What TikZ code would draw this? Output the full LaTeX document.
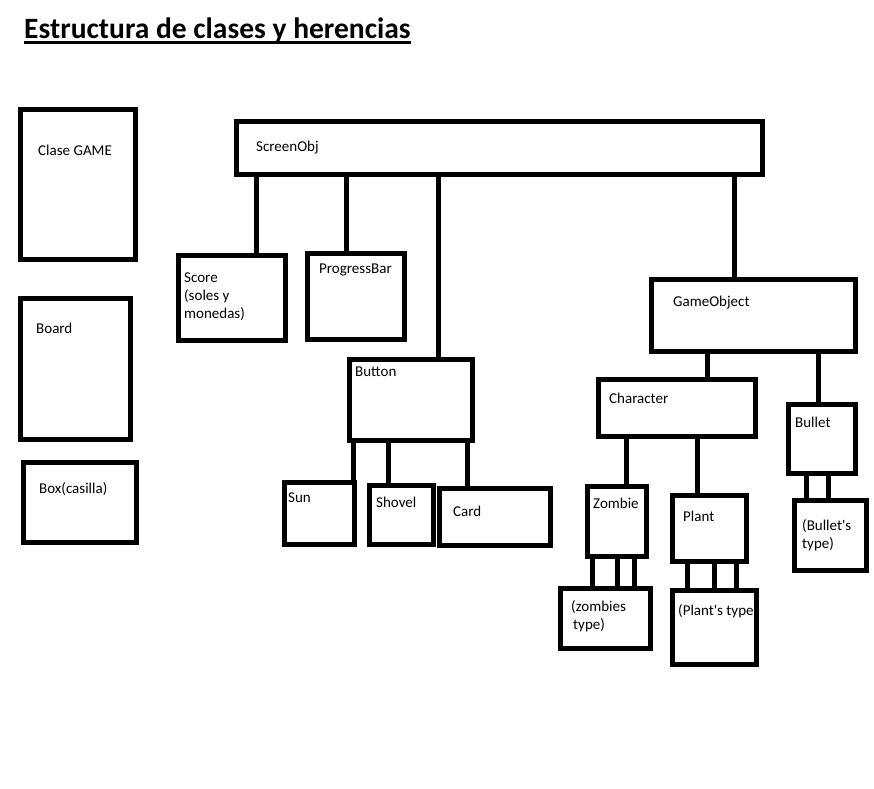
\documentclass[tikz,border=0pt]{standalone}
\usepackage{fontspec}
\setmainfont{Carlito}
\begin{document}
\begin{tikzpicture}[x=1pt,y=-1pt,
  cls/.style={draw=black, line width=5pt, inner sep=0pt, fill=white},
  conn/.style={draw=black, line width=5pt},
  lbl/.style={anchor=base west, inner sep=0pt, font=\fontsize{15}{18}\selectfont, align=left},
  ttl/.style={anchor=base west, inner sep=0pt, font=\fontsize{29.5}{34}\selectfont\bfseries}]
\useasboundingbox[fill=white] (0,0) rectangle (874,788);

% title
\node[ttl] (title) at (24,38) {Estructura de clases y herencias};
\draw[line width=3pt] ([yshift=-4.5pt]title.base west) -- ([yshift=-4.5pt]title.base east);

% left standalone boxes
\node[cls, minimum width=115, minimum height=150] (game) at (78,184.5) {};
\node[cls, minimum width=110, minimum height=141] (board) at (75.5,369) {};
\node[cls, minimum width=113, minimum height=80] (boxc) at (80,502.5) {};

% hierarchy boxes
\node[cls, minimum width=526, minimum height=53] (screen) at (499.5,148) {};
\node[cls, minimum width=107, minimum height=85] (score) at (232,298) {};
\node[cls, minimum width=97, minimum height=86] (progress) at (356,296.5) {};
\node[cls, minimum width=123, minimum height=81] (button) at (411,400) {};
\node[cls, minimum width=70, minimum height=62] (sun) at (319.5,513.5) {};
\node[cls, minimum width=64, minimum height=59] (shovel) at (401.5,515) {};
\node[cls, minimum width=111, minimum height=57] (card) at (495,517) {};
\node[cls, minimum width=204, minimum height=72] (gameobj) at (753.5,315.5) {};
\node[cls, minimum width=157, minimum height=57] (character) at (677,408) {};
\node[cls, minimum width=67, minimum height=69] (bullet) at (822,439) {};
\node[cls, minimum width=59, minimum height=70] (zombie) at (617,521.5) {};
\node[cls, minimum width=74, minimum height=66] (plant) at (709.5,528.5) {};
\node[cls, minimum width=90, minimum height=60] (ztype) at (605.5,618.5) {};
\node[cls, minimum width=84, minimum height=74] (ptype) at (714.5,627.5) {};
\node[cls, minimum width=72, minimum height=70] (btype) at (830.5,535.5) {};

% connectors
\draw[conn] (screen.south -| 256,0) -- (score.north -| 256,0);
\draw[conn] (screen.south -| 346,0) -- (progress.north -| 346,0);
\draw[conn] (screen.south -| 438,0) -- (button.north -| 438,0);
\draw[conn] (screen.south -| 734,0) -- (gameobj.north -| 734,0);
\draw[conn] (button.south -| 353,0) -- (sun.north -| 353,0);
\draw[conn] (button.south -| 388,0) -- (shovel.north -| 388,0);
\draw[conn] (button.south -| 467,0) -- (card.north -| 467,0);
\draw[conn] (gameobj.south -| 707,0) -- (character.north -| 707,0);
\draw[conn] (gameobj.south -| 818,0) -- (bullet.north -| 818,0);
\draw[conn] (character.south -| 626,0) -- (zombie.north -| 626,0);
\draw[conn] (character.south -| 697,0) -- (plant.north -| 697,0);
\draw[conn] (zombie.south -| 592,0) -- (ztype.north -| 592,0);
\draw[conn] (zombie.south -| 617,0) -- (ztype.north -| 617,0);
\draw[conn] (zombie.south -| 634,0) -- (ztype.north -| 634,0);
\draw[conn] (plant.south -| 687,0) -- (ptype.north -| 687,0);
\draw[conn] (plant.south -| 714,0) -- (ptype.north -| 714,0);
\draw[conn] (plant.south -| 736,0) -- (ptype.north -| 736,0);
\draw[conn] (bullet.south -| 806,0) -- (btype.north -| 806,0);
\draw[conn] (bullet.south -| 828,0) -- (btype.north -| 828,0);

% labels (multi-line labels are placed by their last line's baseline)
\node[lbl] (tgame) at (38,155) {Clase GAME};
\node[lbl] (tboard) at (36,333) {Board};
\node[lbl] (tboxc) at (39,493) {Box(casilla)};
\node[lbl] (tscreen) at (256,151) {ScreenObj};
\node[lbl] (tscore) at (184,318) {Score\\(soles y\\monedas)};
\node[lbl] (tprogress) at (319,273) {ProgressBar};
\node[lbl] (tbutton) at (355,376) {Button};
\node[lbl] (tsun) at (288,502) {Sun};
\node[lbl] (tshovel) at (376,507) {Shovel};
\node[lbl] (tcard) at (453,516) {Card};
\node[lbl] (tgameobj) at (673,306) {GameObject};
\node[lbl] (tcharacter) at (609,403) {Character};
\node[lbl] (tbullet) at (795,427) {Bullet};
\node[lbl] (tzombie) at (593,508) {Zombie};
\node[lbl] (tplant) at (683,521) {Plant};
\node[lbl] (tztype) at (571,629) {(zombies\\\hspace*{2pt}type)};
\node[lbl] (tptype) at (678,615) {(Plant\textquotesingle s type};
\node[lbl] (tbtype) at (802,548) {(Bullet\textquotesingle s\\type)};
\end{tikzpicture}
\end{document}
